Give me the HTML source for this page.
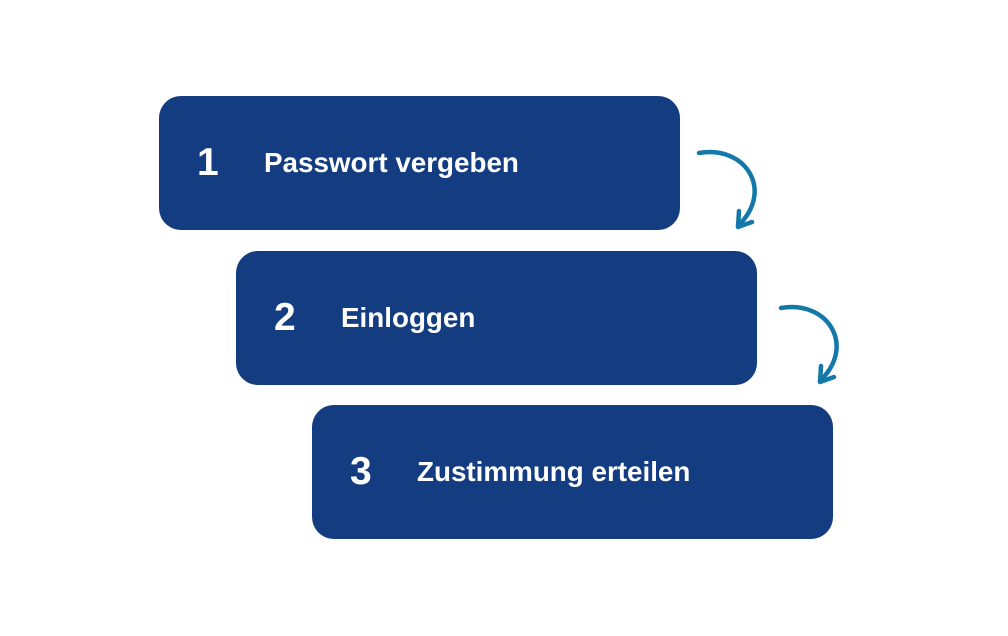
<!DOCTYPE html>
<html><head><style>
body{margin:0;width:1008px;height:636px;background:#fff;position:relative;overflow:hidden;font-family:"Liberation Sans",sans-serif}
.b{position:absolute;width:521px;height:134px;background:#143c80;border-radius:22px;color:#fff;font-weight:bold}
.n{position:absolute;left:38px;top:47px;font-size:39px;line-height:40px}
.t{position:absolute;left:105px;top:52px;font-size:27.8px;line-height:30px}
</style></head><body>
<div class="b" style="left:159px;top:96px"><span class="n">1</span><span class="t">Passwort vergeben</span></div>
<div class="b" style="left:236px;top:251px"><span class="n">2</span><span class="t">Einloggen</span></div>
<div class="b" style="left:312px;top:405px"><span class="n">3</span><span class="t">Zustimmung erteilen</span></div>
<svg width="1008" height="636" style="position:absolute;left:0;top:0" fill="none" stroke="#1479a8" stroke-width="4.5" stroke-linecap="round" stroke-linejoin="round">
<path d="M699 153 C745 145 775 190 738 226"/>
<path d="M739 211 L738 227 L752 222"/>
<path d="M781 308 C827 300 857 345 820 381"/>
<path d="M821 366 L820 382 L834 377"/>
</svg>
</body></html>
